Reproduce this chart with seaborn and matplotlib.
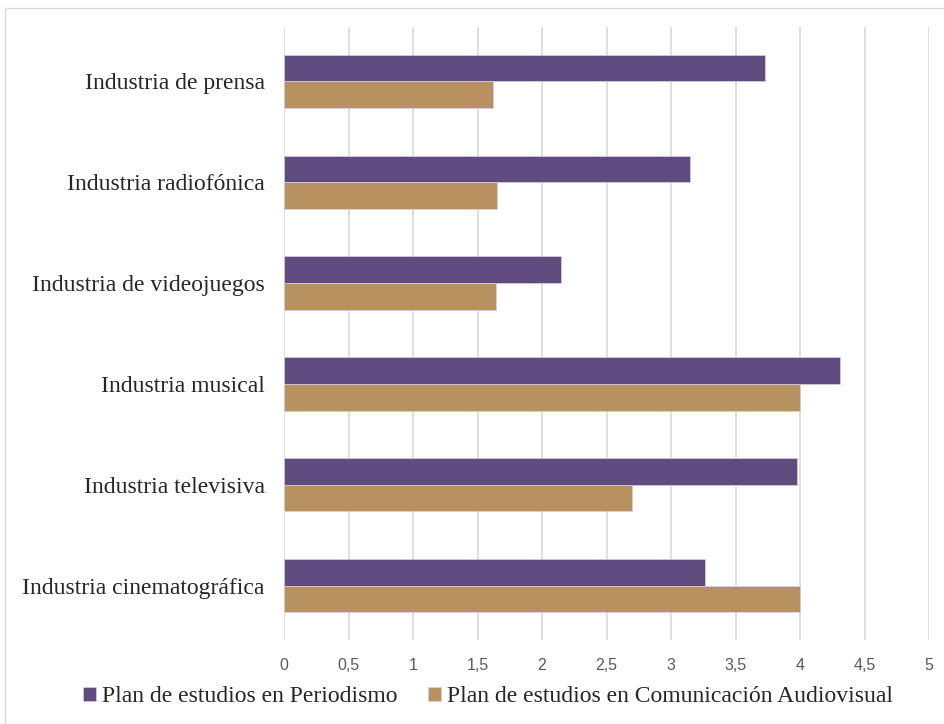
import matplotlib
matplotlib.use("Agg")
import matplotlib.pyplot as plt
import seaborn as sns
import pandas as pd
from matplotlib.patches import Rectangle

categories = ["Industria de prensa", "Industria radiofónica", "Industria de videojuegos",
              "Industria musical", "Industria televisiva", "Industria cinematográfica"]
periodismo = [3.73, 3.15, 2.15, 4.31, 3.98, 3.26]
audiovisual = [1.62, 1.65, 1.64, 4.0, 2.70, 4.0]
series_names = ["Plan de estudios en Periodismo", "Plan de estudios en Comunicación Audiovisual"]
xticks = [0, 0.5, 1, 1.5, 2, 2.5, 3, 3.5, 4, 4.5, 5]
xticklabels = ["0", "0,5", "1", "1,5", "2", "2,5", "3", "3,5", "4", "4,5", "5"]

df = pd.DataFrame({
    "cat": categories * 2,
    "val": periodismo + audiovisual,
    "serie": [series_names[0]] * len(categories) + [series_names[1]] * len(categories),
})

sns.set_style("white")
fig = plt.figure(figsize=(9.44, 7.24), dpi=100)
ax = fig.add_axes([284/944, 1-640/724, (929-284)/944, (640-27)/724])

palette = {series_names[0]: "#5f4b7e", series_names[1]: "#b89161"}
sns.barplot(data=df, y="cat", x="val", hue="serie", order=categories,
            hue_order=series_names, palette=palette, orient="h",
            width=0.525, saturation=1, ax=ax, legend=True, zorder=3,
            edgecolor="#d8d0e0", linewidth=0.5)

ax.set_xlim(0, 5)
ax.set_ylim(5.535, -0.535)
ax.set_xticks(xticks)
ax.set_xticklabels(xticklabels, family="Liberation Sans", fontsize=11.5, color="#595959")
ax.grid(axis="x", color="#dcdfe3", linewidth=1.4, zorder=0)
ax.set_axisbelow(True)
for s in ax.spines.values():
    s.set_visible(False)
ax.tick_params(axis="x", length=0, pad=13)
ax.tick_params(axis="y", length=0, pad=14)
for lab in ax.get_yticklabels():
    lab.set_family("Liberation Serif")
    lab.set_fontsize(17)
    lab.set_color("#262626")
ax.set_xlabel("")
ax.set_ylabel("")

handles, labels = ax.get_legend_handles_labels()
ax.get_legend().remove()
fig.legend(handles, labels, loc="center", bbox_to_anchor=(488/944, 1-697/724),
           ncol=2, frameon=False, prop={"family": "Liberation Serif", "size": 17},
           handlelength=0.55, handleheight=0.55, handletextpad=0.25, columnspacing=1.3,
           labelcolor="#262626")

fig.patches.append(Rectangle((5/944, -0.1), 1.2, 1 - 8/724 + 0.1, transform=fig.transFigure,
                             fill=False, edgecolor="#d9d9d9", linewidth=1.0))

fig.savefig("out.png", dpi=100)
